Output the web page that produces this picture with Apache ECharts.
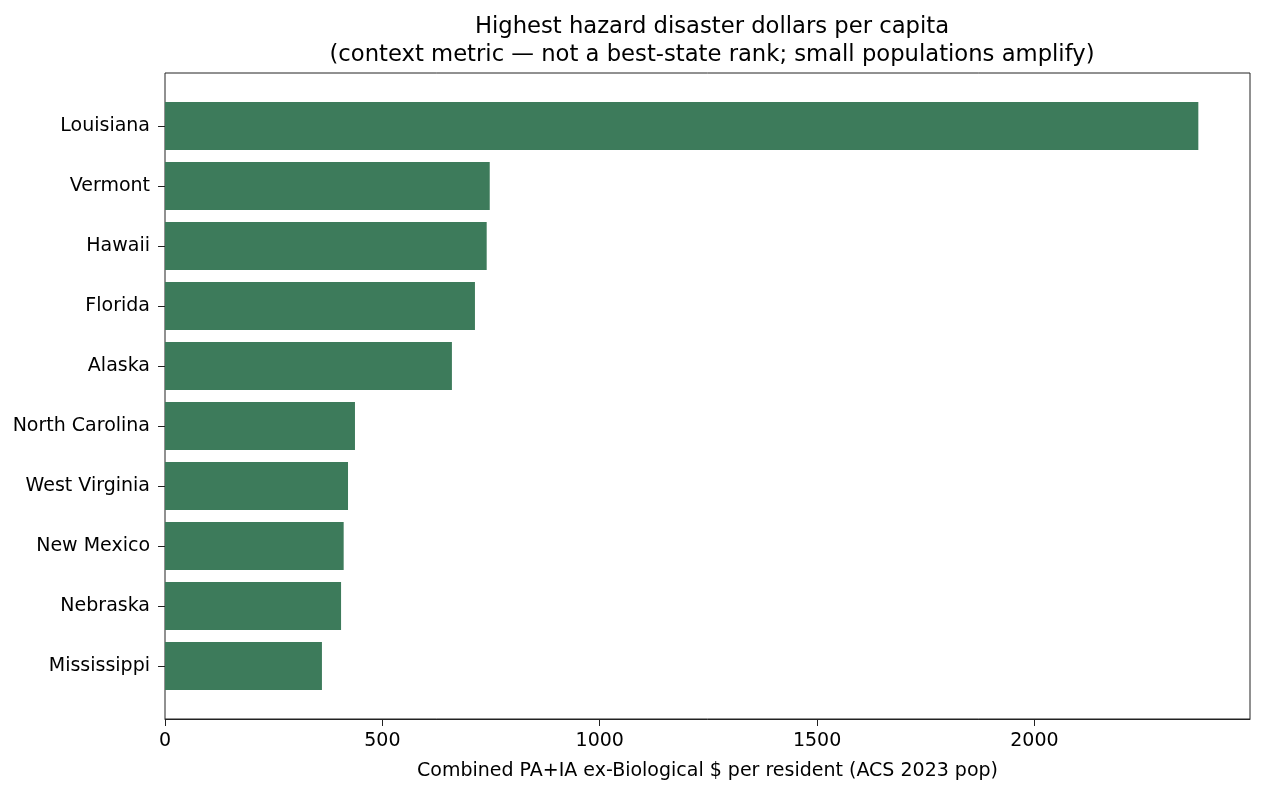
<!DOCTYPE html>
<html>
<head>
<meta charset="utf-8">
<script src="https://cdn.jsdelivr.net/npm/echarts@6/dist/echarts.min.js"></script>
<style>
  html, body { margin: 0; padding: 0; background: #fff; }
  #chart { width: 1264px; height: 794px; }
</style>
</head>
<body>
<div id="chart"></div>
<script>
// states, top to bottom
const states = ['Louisiana', 'Vermont', 'Hawaii', 'Florida', 'Alaska',
  'North Carolina', 'West Virginia', 'New Mexico', 'Nebraska', 'Mississippi'];
// $ per resident
const perCapita = [2377, 747, 740, 713, 660, 437, 421, 411, 405, 361];
const xTicks = [0, 500, 1000, 1500, 2000];

const titleText = 'Highest hazard disaster dollars per capita\n(context metric \u2014 not a best-state rank; small populations amplify)';
const xName = 'Combined PA+IA ex-Biological $ per resident (ACS 2023 pop)';

const font = 'DejaVu Sans';
// matplotlib style 5% headroom on the right
const xMax = Math.max(...perCapita) * 1.05;

const chart = echarts.init(document.getElementById('chart'));
const option = {
  backgroundColor: '#fff',
  animation: false,
  title: {
    text: titleText,
    left: 707,
    top: 8,
    textAlign: 'center',
    textStyle: {
      fontFamily: font,
      fontSize: 22.7,
      fontWeight: 'normal',
      color: '#000',
      lineHeight: 28
    }
  },
  grid: [
    // frame
    { left: 165, right: 14, top: 73, bottom: 75, show: true, borderColor: '#222', borderWidth: 1 },
    // bars (matplotlib-like y margins)
    { left: 165, right: 14, top: 96, bottom: 98 }
  ],
  xAxis: [
    {
      gridIndex: 0,
      type: 'value',
      min: 0,
      max: xMax,
      interval: 500,
      name: xName,
      nameLocation: 'middle',
      nameGap: 43,
      nameTextStyle: { fontFamily: font, fontSize: 19, color: '#000' },
      axisLine: { show: true, lineStyle: { color: '#222', width: 1 } },
      axisTick: { show: true, length: 7, lineStyle: { color: '#222' }, customValues: xTicks },
      axisLabel: {
        fontFamily: font, fontSize: 19, color: '#000', margin: 13,
        customValues: xTicks,
        formatter: (v) => String(v)
      },
      splitLine: { show: false }
    },
    {
      gridIndex: 1,
      type: 'value',
      min: 0,
      max: xMax,
      show: false
    }
  ],
  yAxis: [
    {
      gridIndex: 0,
      type: 'value',
      show: false
    },
    {
      gridIndex: 1,
      type: 'category',
      inverse: true,
      data: states,
      axisLine: { show: false },
      axisTick: { show: true, alignWithLabel: true, length: 7, lineStyle: { color: '#222' } },
      axisLabel: { fontFamily: font, fontSize: 19, color: '#000', margin: 15, padding: [3, 0, 0, 0] },
      splitLine: { show: false }
    }
  ],
  series: [
    {
      type: 'bar',
      xAxisIndex: 1,
      yAxisIndex: 1,
      data: perCapita,
      barCategoryGap: '20%',
      itemStyle: { color: '#3d7b5b' }
    }
  ]
};
chart.setOption(option);
</script>
</body>
</html>
